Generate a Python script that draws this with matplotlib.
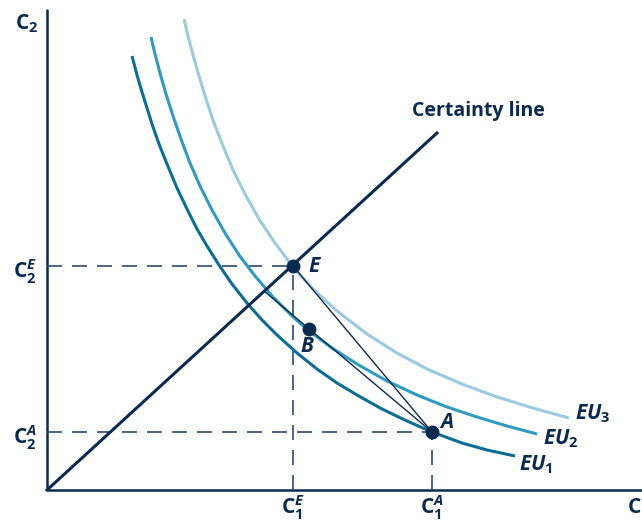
import matplotlib
matplotlib.use("Agg")
import matplotlib.pyplot as plt

plt.rcParams['font.family'] = ['Open Sans', 'DejaVu Sans']
plt.rcParams['mathtext.fontset'] = 'custom'
plt.rcParams['mathtext.rm'] = 'Open Sans:bold'
plt.rcParams['mathtext.bf'] = 'Open Sans:bold'
plt.rcParams['mathtext.it'] = 'Open Sans:italic:bold'

NAVY = '#0c2a50'
DASH = '#2c4a70'

# indifference curves (C1, C2)
eu1_x = [85, 90, 95, 100, 105, 112, 120, 130, 140, 150, 160, 172, 185, 200, 215,
         230, 250, 270, 290, 310, 335, 360, 385, 415, 440, 468]
eu1_y = [434, 415, 398, 382, 366, 346, 326, 302, 281, 261, 244, 225, 206, 187, 170,
         155, 137, 121, 107, 95, 81, 69, 58, 47, 40, 34]
eu2_x = [104, 108, 113, 119, 126, 134, 143, 153, 165, 178, 192, 208, 226, 245, 262,
         285, 310, 340, 370, 400, 430, 460, 490]
eu2_y = [453, 436, 417, 396, 374, 351, 327, 304, 280, 257, 235, 214, 193, 174, 159,
         142, 126, 109, 95, 83, 73, 64, 56]
eu3_x = [137, 141, 146, 152, 159, 167, 176, 186, 198, 212, 228, 246, 266, 290, 320,
         350, 380, 415, 450, 486, 522]
eu3_y = [471, 454, 435, 414, 391, 367, 344, 320, 296, 271, 247, 223, 201, 179, 156,
         137, 121, 106, 93, 82, 72]

certainty_x = [0, 390]
certainty_y = [0, 357]

# points E, B, A and the start of the chord through B
pt_E = (246, 224)
pt_B = (262, 161)
pt_A = (385, 58)
chord_start = (217, 199)

fig = plt.figure(figsize=(6.42, 5.26), dpi=100)
ax = fig.add_axes([0, 0, 1, 1])
ax.set_xlim(-47, 595)
ax.set_ylim(-36, 490)
ax.axis('off')

# axes
ax.plot([0, 595], [0, 0], color=NAVY, lw=1.8, solid_capstyle='butt')
ax.plot([0, 0], [0, 481], color=NAVY, lw=1.8, solid_capstyle='butt')

# dashed guides
for (x, y) in [pt_E, pt_A]:
    ax.plot([0, x], [y, y], color=DASH, lw=1.2, dashes=(9, 6))
    ax.plot([x, x], [0, y], color=DASH, lw=1.2, dashes=(9, 6))

# curves
curve_kw = dict(lw=2.2, solid_joinstyle='round', solid_capstyle='butt')
ax.plot(eu3_x, eu3_y, color='#9ccae0', **curve_kw)
ax.plot(eu2_x, eu2_y, color='#2f9bc0', **curve_kw)
ax.plot(eu1_x, eu1_y, color='#0a6e95', **curve_kw)

ax.plot(certainty_x, certainty_y, color=NAVY, lw=2.2)
ax.plot([pt_E[0], pt_A[0]], [pt_E[1], pt_A[1]], color=NAVY, lw=1.0)
ax.plot([chord_start[0], pt_A[0]], [chord_start[1], pt_A[1]], color=NAVY, lw=1.0)

for p in [pt_E, pt_B, pt_A]:
    ax.plot(p[0], p[1], 'o', color=NAVY, ms=9)

fs = 15
ax.text(pt_E[0] + 15, pt_E[1], 'E', fontsize=fs, style='italic', weight='bold', color=NAVY, va='center')
ax.text(pt_B[0] - 9, pt_B[1] - 18, 'B', fontsize=fs, style='italic', weight='bold', color=NAVY, va='center')
ax.text(pt_A[0] + 8, pt_A[1] + 10, 'A', fontsize=fs, style='italic', weight='bold', color=NAVY, va='center')

ax.text(365, 379, 'Certainty line', fontsize=14, weight='bold', color=NAVY, va='center')

ax.text(472, 25, r'$EU_1$', fontsize=fs, color=NAVY, va='center')
ax.text(496, 51, r'$EU_2$', fontsize=fs, color=NAVY, va='center')
ax.text(528, 76, r'$EU_3$', fontsize=fs, color=NAVY, va='center')

ax.text(-32, 466, r'$\mathrm{C}_2$', fontsize=fs, color=NAVY, va='center')
ax.text(-10, pt_E[1] - 6, r'$\mathrm{C}_2^E$', fontsize=fs, color=NAVY, va='center', ha='right')
ax.text(-10, pt_A[1] - 6, r'$\mathrm{C}_2^A$', fontsize=fs, color=NAVY, va='center', ha='right')
ax.text(pt_E[0], -18, r'$\mathrm{C}_1^E$', fontsize=fs, color=NAVY, va='center', ha='center')
ax.text(pt_A[0], -18, r'$\mathrm{C}_1^A$', fontsize=fs, color=NAVY, va='center', ha='center')
ax.text(580, -18, r'$\mathrm{C}_1$', fontsize=fs, color=NAVY, va='center')

fig.savefig('out.png', dpi=100)
